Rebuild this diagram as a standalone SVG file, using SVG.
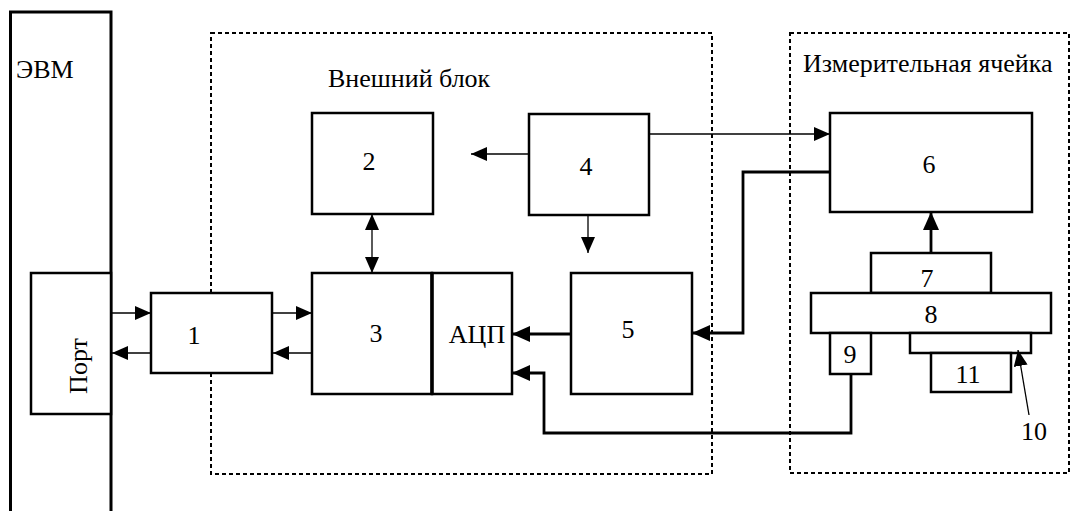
<svg xmlns="http://www.w3.org/2000/svg" width="1071" height="511" viewBox="0 0 1071 511">
<defs>
<style>
.b{fill:#fff;stroke:#000;stroke-width:2.5}
.m{text-anchor:middle}
.d{fill:none;stroke:#000;stroke-width:2;stroke-dasharray:4 3}
.w{fill:none;stroke:#000;stroke-width:1.3}
.k{fill:none;stroke:#000;stroke-width:2.8}
</style>
<marker id="a" viewBox="0 0 16 14" refX="16" refY="7" markerWidth="16" markerHeight="14" markerUnits="userSpaceOnUse" orient="auto-start-reverse"><path d="M0,0 L16,7 L0,14 Z" fill="#000"/></marker>
<marker id="ab" viewBox="0 0 18 16" refX="18" refY="8" markerWidth="18" markerHeight="16" markerUnits="userSpaceOnUse" orient="auto-start-reverse"><path d="M0,0 L18,8 L0,16 Z" fill="#000"/></marker>
</defs>
<rect width="1071" height="511" fill="#fff"/>
<g font-family="'Times New Roman', Tinos, 'DejaVu Serif', 'Liberation Serif', serif" font-size="26" fill="#000">
<g id="outer-block">
<rect class="d" x="211" y="33" width="501" height="441"/>
<text x="328" y="87">Внешний блок</text>
</g>
<g id="cell">
<rect class="d" x="790" y="33" width="279" height="440"/>
<text x="803" y="72">Измерительная ячейка</text>
</g>
<g id="evm">
<path d="M10.5,511 V12 H111 V511" fill="none" stroke="#000" stroke-width="3"/>
<text x="16" y="78">ЭВМ</text>
</g>
<g id="port">
<rect class="b" x="31" y="273" width="80" height="141"/>
<text class="m" transform="translate(87,366) rotate(-90)">Порт</text>
</g>
<g id="n1"><rect class="b" x="151" y="293" width="121" height="80"/><text class="m" x="194" y="344">1</text></g>
<g id="n2"><rect class="b" x="312" y="113" width="121" height="101"/><text class="m" x="369" y="170">2</text></g>
<g id="n3"><rect class="b" x="312" y="273" width="120" height="121"/><text class="m" x="376" y="342">3</text></g>
<g id="adc"><rect class="b" x="432" y="273" width="80" height="121"/><line x1="432" y1="273" x2="432" y2="394" stroke="#000" stroke-width="3.5"/><text class="m" x="477" y="343">АЦП</text></g>
<g id="n4"><rect class="b" x="529" y="114" width="120" height="101"/><text class="m" x="586" y="175">4</text></g>
<g id="n5"><rect class="b" x="571" y="273" width="121" height="121"/><text class="m" x="628" y="338">5</text></g>
<g id="n6"><rect class="b" x="830" y="113" width="202" height="99"/><text class="m" x="929" y="173">6</text></g>
<g id="n7"><rect class="b" x="871" y="253" width="120" height="40"/><text class="m" x="927" y="287">7</text></g>
<g id="n8"><rect class="b" x="811" y="293" width="240" height="40"/><text class="m" x="931" y="323">8</text></g>
<g id="n9"><rect class="b" x="830" y="333" width="41" height="41"/><text class="m" x="850" y="363">9</text></g>
<g id="n10"><rect class="b" x="910" y="333" width="121" height="20"/><text class="m" x="1034" y="440">10</text></g>
<g id="n11"><rect class="b" x="931" y="353" width="80" height="39"/><text class="m" x="968" y="383">11</text></g>
</g>
<g id="connectors">
<line class="w" x1="111" y1="313" x2="151" y2="313" marker-end="url(#a)"/>
<line class="w" x1="151" y1="353" x2="112" y2="353" marker-end="url(#a)"/>
<line class="w" x1="272" y1="313" x2="312" y2="313" marker-end="url(#a)"/>
<line class="w" x1="312" y1="353" x2="273" y2="353" marker-end="url(#a)"/>
<line class="w" x1="372" y1="214" x2="372" y2="273" marker-start="url(#a)" marker-end="url(#a)"/>
<line class="w" x1="529" y1="154" x2="471" y2="154" marker-end="url(#a)"/>
<line class="w" x1="588" y1="215" x2="588" y2="253" marker-end="url(#a)"/>
<line class="w" x1="649" y1="134" x2="830" y2="134" marker-end="url(#a)"/>
<line class="k" x1="571" y1="334" x2="512" y2="334" marker-end="url(#ab)"/>
<polyline class="k" points="851,374 851,433 544,433 544,373 512,373" marker-end="url(#ab)"/>
<polyline class="k" points="830,172 743,172 743,333 692,333" marker-end="url(#ab)"/>
<line class="k" x1="931" y1="253" x2="931" y2="212" marker-end="url(#ab)"/>
<line class="w" x1="1029" y1="415" x2="1018" y2="350" marker-end="url(#a)"/>
</g>
</svg>
